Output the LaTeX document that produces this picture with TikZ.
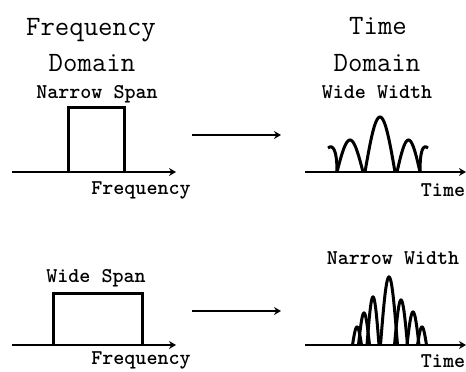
\documentclass[tikz,border=0pt]{standalone}
\usepackage{tikz}
\usetikzlibrary{arrows.meta}

\newcommand{\lobe}[4]{% center, half width, height, axis level
  \draw[lobeline] plot[domain=0:180, samples=31] ({#1-#2+#2*\x/90},{#4+#3*sin(\x)});}

\tikzset{
  bigtext/.style={font=\ttfamily\fontsize{28}{30}\selectfont, anchor=base, inner sep=0pt},
  smalltext/.style={font=\ttfamily\bfseries\fontsize{21}{24}\selectfont, anchor=base, inner sep=0pt},
  axisline/.style={line width=2pt, ->},
  spanbox/.style={line width=3pt},
  lobeline/.style={line width=3pt},
  mapsto/.style={line width=2pt, ->}
}

\begin{document}
\begin{tikzpicture}[x=1pt, y=1pt, >={Stealth[length=7pt, width=8pt]}]
                \useasboundingbox (0,0) rectangle (466,372);

                \node[bigtext] (fdtop) at (91,336) {Frequency};
                \node[bigtext] (fdbot) at (92,300) {Domain};
                \node[bigtext] (tdtop) at (378,337) {Time};
                \node[bigtext] (tdbot) at (377,300) {Domain};

                \coordinate (fa1) at (12,200);
                \coordinate (fb1) at (176,200);
                \draw[axisline] (fa1) -- (fb1);
                \draw[spanbox] (68,200) -- (68,264) -- (124,264) -- (124,200);
                \node[smalltext] (narrowspan) at (97,273) {Narrow Span};
                \node[smalltext] (flabel1) at (141,177) {Frequency};

                \coordinate (ma1) at (192,237);
                \coordinate (mb1) at (281,237);
                \draw[mapsto] (ma1) -- (mb1);

                \coordinate (ta1) at (305,200);
                \coordinate (tb1) at (466,200);
                \draw[axisline] (ta1) -- (tb1);
                \node[smalltext] (widewidth) at (377,273) {Wide Width};
                \node[smalltext] (tlabel1) at (443,175) {Time};
                \lobe{380}{15}{55}{200}
                \lobe{350}{13}{32}{200}
                \lobe{408.5}{11.5}{32}{200}
                \draw[lobeline] (328,224) .. controls (333,228) and (337,222) .. (337,200);
                \draw[lobeline] (420,200) .. controls (420,222) and (423,228) .. (428,224);

                \coordinate (fa2) at (12,27);
                \coordinate (fb2) at (176,27);
                \draw[axisline] (fa2) -- (fb2);
                \draw[spanbox] (53,27) -- (53,78) -- (142,78) -- (142,27);
                \node[smalltext] (widespan) at (96,89) {Wide Span};
                \node[smalltext] (flabel2) at (141,7) {Frequency};

                \coordinate (ma2) at (192,61);
                \coordinate (mb2) at (281,61);
                \draw[mapsto] (ma2) -- (mb2);

                \coordinate (ta2) at (305,27);
                \coordinate (tb2) at (466,27);
                \draw[axisline] (ta2) -- (tb2);
                \node[smalltext] (narrowwidth) at (393,107) {Narrow Width};
                \node[smalltext] (tlabel2) at (443,4) {Time};
                \lobe{389}{8.5}{68}{27}
                \lobe{373}{6}{48}{27}
                \lobe{364}{5.5}{32}{27}
                \lobe{357}{4.5}{18}{27}
                \lobe{401}{6.5}{45}{27}
                \lobe{413}{6}{33}{27}
                \lobe{422}{4.5}{18}{27}
            \end{tikzpicture}
\end{document}
